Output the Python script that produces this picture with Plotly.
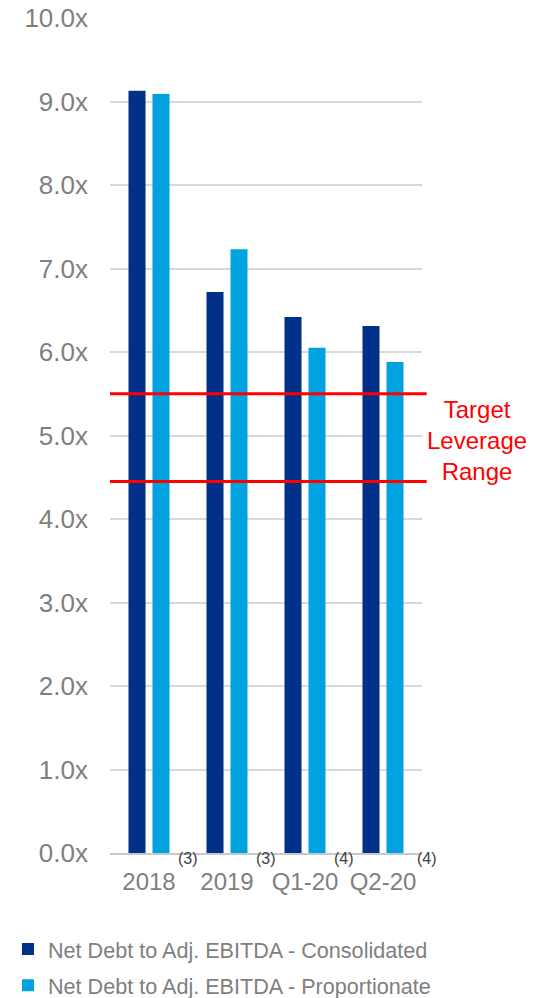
import plotly.graph_objects as go

categories = ["2018", "2019", "Q1-20", "Q2-20"]
footnotes = ["(3)", "(3)", "(4)", "(4)"]
consolidated = [9.13, 6.72, 6.42, 6.31]
proportionate = [9.09, 7.23, 6.05, 5.88]
target_low = 4.45
target_high = 5.5
y_ticks = [0, 1, 2, 3, 4, 5, 6, 7, 8, 9, 10]
y_tick_labels = [f"{v:.1f}x" for v in y_ticks]

FONT = "Liberation Sans, Arial, sans-serif"
GRAY = "#7f7f7f"

xpos = list(range(len(categories)))

fig = go.Figure()
fig.add_trace(go.Bar(x=xpos, y=consolidated, name="Net Debt to Adj. EBITDA - Consolidated",
                     legendgroup="a", marker=dict(color="#003087", line=dict(width=0))))
fig.add_trace(go.Bar(x=xpos, y=proportionate, name="Net Debt to Adj. EBITDA - Proportionate",
                     legendgroup="b", marker=dict(color="#00A3E0", line=dict(width=0))))

for y in (target_low, target_high):
    fig.add_shape(type="line", xref="paper", yref="y", x0=0, x1=1.015, y0=y, y1=y,
                  line=dict(color="#ff0000", width=3))

fig.add_annotation(xref="paper", yref="y", x=1.176, y=4.936, text="Target<br>Leverage<br>Range",
                   showarrow=False, font=dict(family=FONT, size=24, color="#ff0000"),
                   xanchor="center", yanchor="middle", align="center")

for i, f in zip(xpos, footnotes):
    fig.add_annotation(xref="x", yref="paper", x=i, y=0, text=f, showarrow=False,
                       xshift=39 if i < 3 else 44, yshift=-5, yanchor="middle", xanchor="center",
                       font=dict(family=FONT, size=16, color="#404040"))

fig.update_layout(
    width=536, height=998,
    margin=dict(l=110, r=114, t=18, b=145, autoexpand=False),
    paper_bgcolor="white", plot_bgcolor="white",
    barmode="group", bargap=0.385, bargroupgap=0.29,
    font=dict(family=FONT, color=GRAY),
    showlegend=True,
    legend=dict(x=-0.327, y=-0.0905, xanchor="left", yanchor="top", orientation="v",
                traceorder="grouped", tracegroupgap=5,
                font=dict(family=FONT, size=21.6, color=GRAY),
                itemwidth=30, bgcolor="rgba(0,0,0,0)"),
    xaxis=dict(range=[-0.5, 3.5], tickvals=xpos, ticktext=categories, showgrid=False,
               zeroline=False, showline=True, linecolor="#c8c8c8", linewidth=1.5,
               tickfont=dict(family=FONT, size=24, color=GRAY), ticks="", ticklabelstandoff=6),
    yaxis=dict(range=[0, 10], tickvals=y_ticks, ticktext=y_tick_labels, showgrid=True,
               gridcolor="#d9d9d9", gridwidth=1.5, zeroline=False, showline=False,
               tickfont=dict(family=FONT, size=26, color=GRAY), ticks="", ticklabelstandoff=21),
)

fig.write_html("out.html")
